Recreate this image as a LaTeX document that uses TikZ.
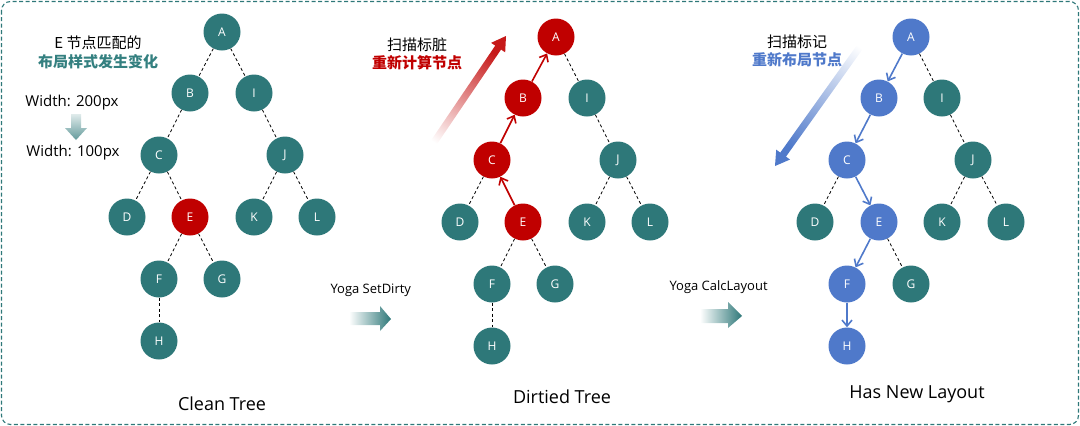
\documentclass[tikz,border=0pt]{standalone}
\usepackage{fontspec}
\setmainfont{Open Sans}
\newfontfamily\cjk{Noto Sans CJK SC}
\usetikzlibrary{arrows.meta}
\definecolor{teal1}{RGB}{46,120,121}
\definecolor{red1}{RGB}{192,0,0}
\definecolor{blue1}{RGB}{79,121,202}
\definecolor{tealtxt}{RGB}{52,128,128}
\tikzset{
  tn/.style={circle,fill=teal1,minimum size=37pt,inner sep=0pt,text=white,font=\fontsize{12}{12}\selectfont},
  rn/.style={tn,fill=red1},
  bn/.style={tn,fill=blue1},
  dl/.style={draw=black,line width=0.8pt,dash pattern=on 3pt off 2.5pt},
  ra/.style={draw=red1,line width=1.6pt,-{Straight Barb[length=6pt,width=10pt,line width=1.6pt]}},
  ba/.style={draw=blue1,line width=1.6pt,-{Straight Barb[length=6pt,width=10pt,line width=1.6pt]}},
  title/.style={font=\fontsize{18}{18}\selectfont},
  lbl/.style={font=\fontsize{13}{13}\selectfont},
  cn/.style={font=\cjk\fontsize{15}{15}\selectfont},
  cb/.style={font=\cjk\bfseries\fontsize{15}{15}\selectfont},
}
\begin{document}
\begin{tikzpicture}[x=1pt,y=-1pt]
\useasboundingbox (0,0) rectangle (1080,426);
\draw[teal1,line width=1.1pt,dash pattern=on 4pt off 2.5pt,rounded corners=9pt] (1.5,1.5) rectangle (1078.5,424.5);

% ---------- Tree 1 ----------
\node[tn] (a1) at (222,32) {A};
\node[tn] (b1) at (190,93) {B};
\node[tn] (i1) at (254,93) {I};
\node[tn] (c1) at (159,155) {C};
\node[tn] (j1) at (285,155) {J};
\node[tn] (d1) at (127,217) {D};
\node[rn] (e1) at (190,217) {E};
\node[tn] (k1) at (254,217) {K};
\node[tn] (l1) at (317,217) {L};
\node[tn] (f1) at (159,279) {F};
\node[tn] (g1) at (222,279) {G};
\node[tn] (h1) at (159,341) {H};
\foreach \p/\c in {a1/b1,a1/i1,b1/c1,i1/j1,c1/d1,c1/e1,j1/k1,j1/l1,e1/f1,e1/g1,f1/h1}
  \draw[dl] (\p) -- (\c);
\node[title] (t1) at (222,404) {Clean Tree};
\node[cn] (n1a) at (98,43) {E 节点匹配的};
\node[cb,text=tealtxt] (n1b) at (98,62) {布局样式发生变化};
\node[font=\fontsize{15}{15}\selectfont] (w1) at (72,103) {Width: 200px};
\node[font=\fontsize{15}{15}\selectfont] (w2) at (73,153) {Width: 100px};
\shade[top color=teal1!15, bottom color=teal1!75] (71,114) -- (81,114) -- (81,128) -- (87,128) -- (76,140) -- (65,128) -- (71,128) -- cycle;

% ---------- arrow 1 ----------
\node[lbl,anchor=west] (y1) at (327,290) {Yoga SetDirty};
\shade[left color=white, right color=teal1] (349,312) -- (380,312) -- (380,306) -- (391,319) -- (380,331) -- (380,325) -- (349,325) -- cycle;

% ---------- Tree 2 ----------
\node[rn] (a2) at (556,37) {A};
\node[rn] (b2) at (523,98) {B};
\node[tn] (i2) at (587,98) {I};
\node[rn] (c2) at (492,160) {C};
\node[tn] (j2) at (618,160) {J};
\node[tn] (d2) at (460,222) {D};
\node[rn] (e2) at (523,222) {E};
\node[tn] (k2) at (587,222) {K};
\node[tn] (l2) at (650,222) {L};
\node[tn] (f2) at (492,284) {F};
\node[tn] (g2) at (555,284) {G};
\node[tn] (h2) at (492,346) {H};
\foreach \p/\c in {a2/i2,i2/j2,c2/d2,j2/k2,j2/l2,e2/f2,e2/g2,f2/h2}
  \draw[dl] (\p) -- (\c);
\draw[ra] (e2) -- (c2);
\draw[ra] (c2) -- (b2);
\draw[ra] (b2) -- (a2);
\node[title] (t2) at (562,397) {Dirtied Tree};
\node[cn] (n2a) at (417,45) {扫描标脏};
\node[cb,text=red1] (n2b) at (417,63) {重新计算节点};
\shade[top color=red1!90, bottom color=white, shading angle=-34]
  (421.10,155.04) -- (495.25,45.63) -- (491.11,42.82) -- (506,36) -- (505.19,52.36) -- (501.05,49.55) -- (426.90,158.96) -- cycle;

% ---------- arrow 2 ----------
\node[lbl,anchor=west] (y2) at (666,287) {Yoga CalcLayout};
\shade[left color=white, right color=teal1] (700,309) -- (728,309) -- (728,302) -- (742,316) -- (728,328) -- (728,323) -- (700,323) -- cycle;

% ---------- Tree 3 ----------
\node[bn] (a3) at (911,37) {A};
\node[bn] (b3) at (879,98) {B};
\node[tn] (i3) at (942,98) {I};
\node[bn] (c3) at (847,160) {C};
\node[tn] (j3) at (973,160) {J};
\node[tn] (d3) at (815,222) {D};
\node[bn] (e3) at (879,222) {E};
\node[tn] (k3) at (942,222) {K};
\node[tn] (l3) at (1006,222) {L};
\node[bn] (f3) at (847,284) {F};
\node[tn] (g3) at (911,284) {G};
\node[bn] (h3) at (847,346) {H};
\foreach \p/\c in {a3/i3,i3/j3,c3/d3,j3/k3,j3/l3,e3/g3}
  \draw[dl] (\p) -- (\c);
\draw[ba] (a3) -- (b3);
\draw[ba] (b3) -- (c3);
\draw[ba] (c3) -- (e3);
\draw[ba] (e3) -- (f3);
\draw[ba] (f3) -- (h3);
\node[title] (t3) at (917,394) {Has New Layout};
\node[cn] (n3a) at (797,42) {扫描标记};
\node[cb,text=blue1] (n3b) at (797,60) {重新布局节点};
\shade[top color=blue1, bottom color=white, shading angle=144.5]
  (869.15,27.97) -- (780.28,152.57) -- (776.21,149.66) -- (775,166) -- (790.05,159.54) -- (785.98,156.63) -- (874.85,32.03) -- cycle;
\end{tikzpicture}
\end{document}
